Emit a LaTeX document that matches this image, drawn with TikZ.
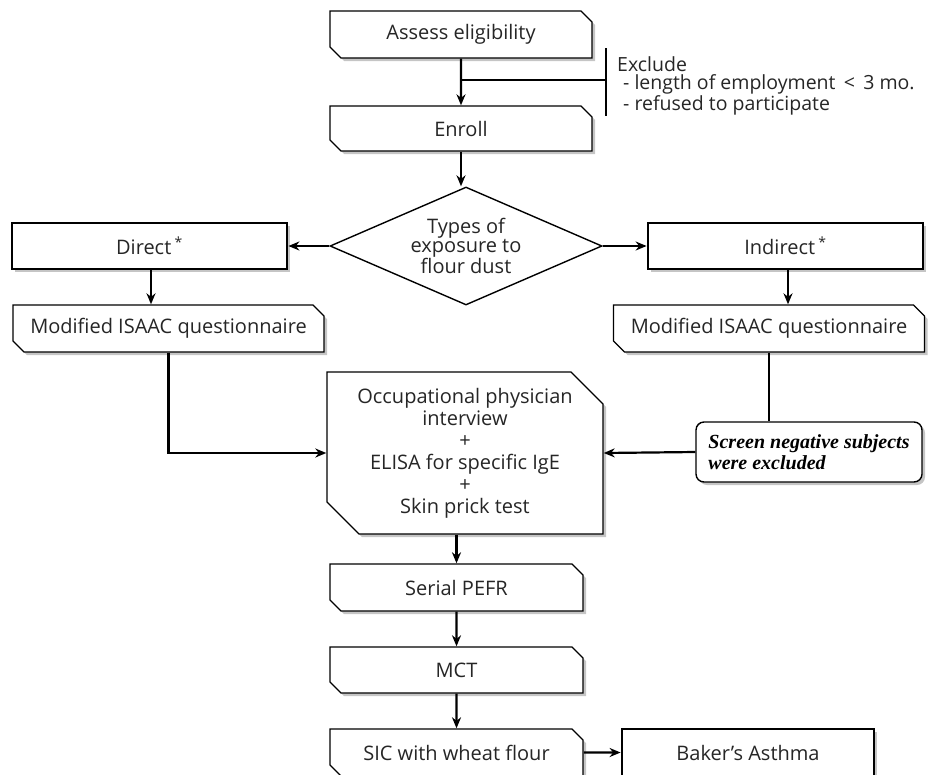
\documentclass[tikz,border=0pt]{standalone}
\usepackage{fontspec}
\setmainfont{Open Sans}
\newfontfamily\notefont{Liberation Serif}
\usetikzlibrary{shapes.misc,shapes.geometric,shadows,arrows.meta}

\tikzset{
  boxshadow/.style={drop shadow={shadow xshift=3pt, shadow yshift=-3pt, fill=black!45}},
  snipbox/.style={chamfered rectangle, chamfered rectangle corners={north east,south west},
    chamfered rectangle xsep=5pt, chamfered rectangle ysep=6pt, draw, line width=1.4pt,
    fill=white, boxshadow, inner sep=0pt, text=black!85, align=center,
    font=\fontsize{20}{22}\selectfont},
  heavybox/.style={rectangle, draw, line width=2.8pt, fill=white, boxshadow, inner sep=0pt,
    text=black!85, font=\fontsize{20}{22}\selectfont},
  link/.style={line width=2.2pt},
  arrow/.style={link, ->},
}

\begin{document}
\begin{tikzpicture}[x=1pt, y=-1pt, >={Stealth[length=11pt,width=9pt]}]
  \useasboundingbox (0,0) rectangle (941,774);

  % top of the flow
  \node[snipbox, minimum width=262pt, minimum height=47pt] (assess) at (461,34.5) {Assess eligibility};
  \node[snipbox, minimum width=262pt, minimum height=45pt] (enroll) at (461,128.5) {Enroll};
  \coordinate (barTop) at (606,48);
  \coordinate (barBot) at (606,116);
  \coordinate (barMid) at (606,80);
  \node[anchor=north west, align=left, inner sep=0pt, text=black!85,
    font=\fontsize{19.5}{18.5}\selectfont] (exclude) at (617,56)
    {Exclude\\\hspace{6pt}- length of employment \,<\, 3 mo.\\\hspace{6pt}- refused to participate};

  % exposure split
  \node[diamond, draw, line width=1.4pt, fill=white, minimum width=272pt, minimum height=118pt,
    aspect=2.3, inner sep=0pt, align=center, text=black!85,
    font=\fontsize{20}{19.5}\selectfont] (types) at (466,246) {Types of\\exposure to\\flour dust};
  \node[heavybox, minimum width=275pt, minimum height=46pt] (direct) at (149.5,246) {Direct\,\textsuperscript{*}};
  \node[heavybox, minimum width=275pt, minimum height=46pt] (indirect) at (785.5,246) {Indirect\,\textsuperscript{*}};
  \node[snipbox, minimum width=311pt, minimum height=47pt] (isaacL) at (168.5,328.5) {Modified ISAAC questionnaire};
  \node[snipbox, minimum width=311pt, minimum height=47pt] (isaacR) at (769,328.5) {Modified ISAAC questionnaire};
  \node[rectangle, rounded corners=8pt, draw, line width=1.4pt, fill=white, boxshadow,
    minimum width=226pt, minimum height=60pt, inner sep=3pt, align=left,
    font=\notefont\bfseries\itshape\fontsize{20}{21}\selectfont] (screen) at (809,452)
    {Screen negative subjects\\were excluded};

  % tests
  \node[snipbox, chamfered rectangle xsep=16pt, chamfered rectangle ysep=16pt,
    minimum width=276pt, minimum height=150pt, font=\fontsize{20}{22}\selectfont] (clinic) at (465,453)
    {Occupational physician\\interview\\+\\ELISA for specific IgE\\+\\Skin prick test};
  \node[snipbox, minimum width=253pt, minimum height=47pt] (pefr) at (456.5,587.5) {Serial PEFR};
  \node[snipbox, minimum width=253pt, minimum height=46pt] (mct) at (456.5,670) {MCT};
  \node[snipbox, minimum width=253pt, minimum height=47pt] (sic) at (456.5,752.5) {SIC with wheat flour};
  \node[heavybox, minimum width=252pt, minimum height=47pt] (baker) at (748,752.5) {Baker's Asthma};

  % connectors
  \draw[arrow] (assess) -- (enroll);
  \draw[link] (barTop) -- (barBot);
  \draw[link] (assess.south |- barMid) -- (barMid);
  \draw[arrow] (enroll.south) -- (enroll.south |- types.north);
  \draw[arrow] (types) -- (direct);
  \draw[arrow] (types) -- (indirect);
  \draw[arrow] (151,0 |- direct.south) -- (151,0 |- isaacL.north);
  \draw[arrow] (788,0 |- indirect.south) -- (788,0 |- isaacR.north);
  \draw[arrow] (isaacL.south) |- (clinic.west);
  \draw[link] (isaacR.south) -- (isaacR.south |- screen.north);
  \draw[arrow] (screen.west) -- (clinic.east);
  \draw[arrow] (pefr.north |- clinic.south) -- (pefr.north);
  \draw[arrow] (pefr) -- (mct);
  \draw[arrow] (mct) -- (sic);
  \draw[arrow] (sic) -- (baker);
\end{tikzpicture}
\end{document}
